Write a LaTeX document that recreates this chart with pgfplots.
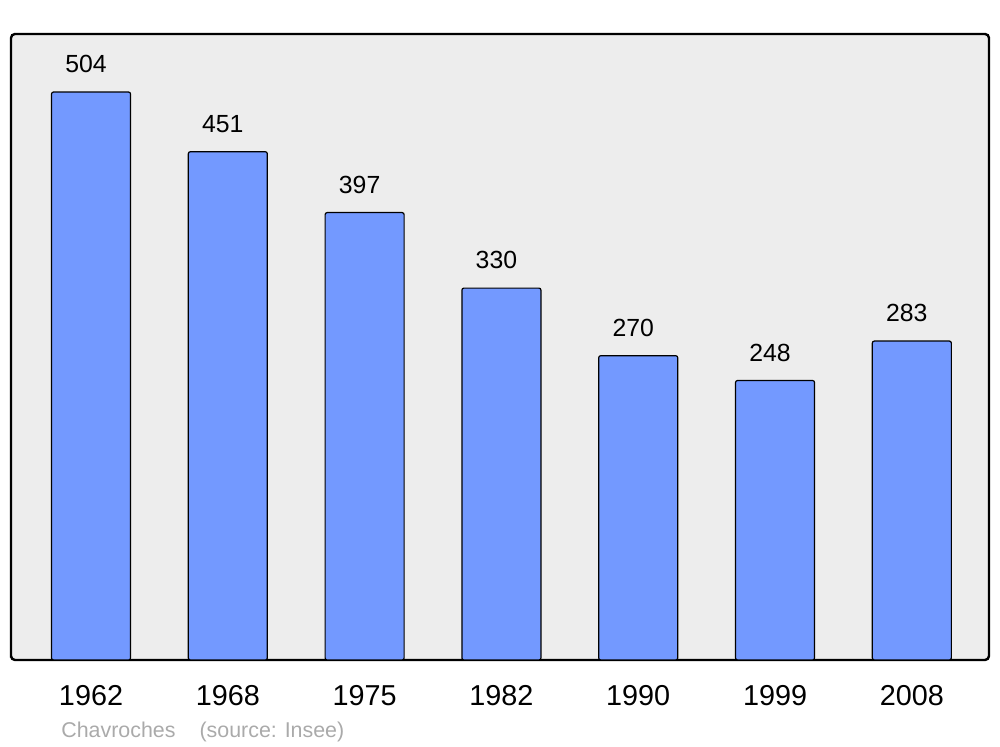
\documentclass[border=0pt]{standalone}
\usepackage{pgfplots}
\pgfplotsset{compat=1.18}
\usepackage{fontspec}
\setmainfont{Liberation Sans}
\definecolor{barblue}{HTML}{7399FF}
\definecolor{bggray}{HTML}{EDEDED}
\definecolor{capgray}{HTML}{AAAAAA}
\begin{document}
\begin{tikzpicture}
\useasboundingbox (-5.5pt,-43.5pt) rectangle (494.5pt,330pt);
\begin{axis}[
  at={(0pt,0pt)}, anchor=south west,
  scale only axis, width=489pt, height=313pt,
  xmin=-0.585, xmax=6.564, ymin=0, ymax=555.5,
  axis background/.style={fill=bggray},
  axis line style={line width=1.2pt, rounded corners=2pt},
  xtick={0,1,2,3,4,5,6},
  xticklabels={1962,1968,1975,1982,1990,1999,2008},
  ytick=\empty,
  major tick length=0pt,
  xticklabel style={font=\fontsize{14.4}{16}\selectfont, yshift=-9pt},
  /pgf/number format/assume math mode=true,
  ybar, bar width=39.5pt,
  nodes near coords,
  nodes near coords style={font=\fontsize{12.4}{14}\selectfont, anchor=center, yshift=14pt, xshift=-2.5pt},
  clip=false,
]
\addplot[fill=barblue, draw=black, line width=0.6pt, rounded corners=1pt] coordinates {
 (0,504) (1,451) (2,397) (3,330) (4,270) (5,248) (6,283)};
\end{axis}
\node[anchor=west, text=capgray, font=\fontsize{10.7}{12}\selectfont, inner sep=0pt] at (25pt,-36pt) {Chavroches\hspace{12pt}(source: Insee)};
\end{tikzpicture}
\end{document}
